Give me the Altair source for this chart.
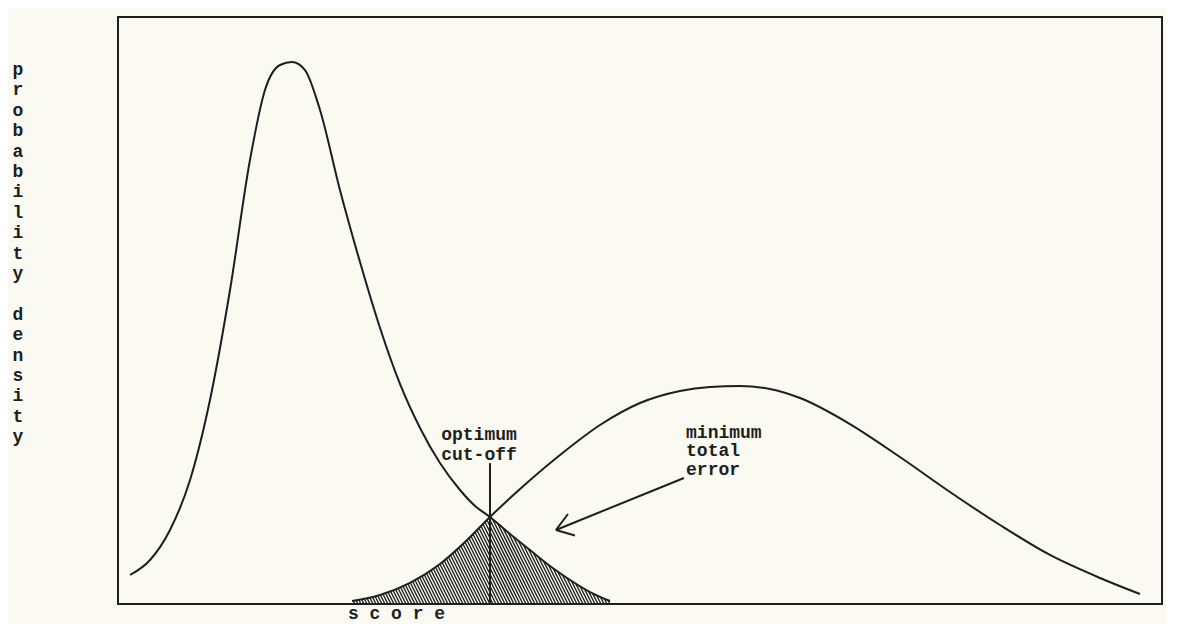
import altair as alt
import numpy as np
import pandas as pd

# ---- data (score 0-100 across the frame, density 0-100 up the frame)
left_score = [1.15, 3.07, 4.98, 6.90, 8.81, 10.73, 12.64, 14.08, 15.52, 16.67, 17.91, 19.35,
              21.26, 23.18, 25.10, 27.01, 28.93, 30.84, 32.76, 34.20, 35.63, 37.55, 39.46,
              41.38, 43.30, 45.21, 47.13]
left_density = [4.94, 7.50, 12.61, 21.12, 34.75, 53.49, 75.64, 87.56, 91.82, 92.33, 90.97, 84.16,
                70.53, 58.26, 47.02, 37.48, 29.98, 24.02, 19.42, 16.70, 14.82, 11.93, 9.20,
                6.47, 4.09, 2.04, 0.51]

right_score = [22.41, 25.10, 27.97, 30.84, 33.24, 35.63, 38.51, 42.34, 46.17, 50.00, 53.83,
               56.70, 59.58, 62.45, 65.33, 70.11, 74.90, 79.69, 84.48, 89.27, 94.06, 97.89]
right_density = [0.51, 1.53, 3.58, 6.81, 10.56, 14.82, 19.59, 25.38, 30.49, 34.24, 36.29,
                 36.97, 37.14, 36.63, 35.09, 30.66, 25.04, 19.08, 13.46, 8.35, 4.43, 1.70]

cutoff_score = 35.63
cutoff_top = 24.0
hatch_start, hatch_end = 22.41, 47.13

y_title_words = ["probability", "density"]
x_title = "s c o r e"

optimum_lines = ["optimum", "cut-off"]
optimum_score = 34.58
optimum_density = [28.79, 25.38]

minimum_lines = ["minimum", "total", "error"]
minimum_score = 54.41
minimum_density = [29.13, 26.06, 22.83]

arrow_tail = (54.21, 21.47)
arrow_tip = (41.95, 12.61)
arrow_wings = [(43.10, 15.33), (43.77, 11.67)]

# ---- layout
W, H = 1044, 587
PX_X, PX_Y = W / 100.0, H / 100.0
FONT = "Liberation Mono"
INK = "#1e1e1e"
FS = 18
LETTER_X_PX = -100       # left of the frame
LETTER_TOP_PX = 53       # first letter, from the top of the frame
LETTER_STEP_PX = 20.4

# ---- stacked letters of the vertical axis label (one blank line between the words)
letter_rows = []
line = 0
for wi, word in enumerate(y_title_words):
    if wi > 0:
        line += 1
    for ch in word:
        letter_rows.append(dict(text=ch,
                                score=LETTER_X_PX / PX_X,
                                density=100 - (LETTER_TOP_PX + line * LETTER_STEP_PX) / PX_Y))
        line += 1
letters_df = pd.DataFrame(letter_rows)

# ---- hatch lines inside the overlap region
rows = []
t = np.arange(0, 200, 0.25)
for xb in np.arange(hatch_start, hatch_end, 3.0 / PX_X):
    xx = xb - 0.5 * t / PX_X
    yy = t / PX_Y
    env = np.minimum(np.interp(xx, left_score, left_density),
                     np.interp(xx, right_score, right_density))
    inside = (yy <= env) & (xx >= hatch_start)
    k = int(np.argmax(~inside))
    if k == 0:
        continue
    rows.append(dict(score=xb, density=0.0, score_end=xx[k - 1], density_end=yy[k - 1]))
hatch_df = pd.DataFrame(rows)

curves = pd.concat([
    pd.DataFrame({"score": left_score, "density": left_density, "curve": "a"}),
    pd.DataFrame({"score": right_score, "density": right_density, "curve": "b"}),
])

segs = pd.DataFrame([
    dict(score=cutoff_score, density=0.0, score_end=cutoff_score, density_end=cutoff_top),
    dict(score=arrow_tail[0], density=arrow_tail[1], score_end=arrow_tip[0], density_end=arrow_tip[1]),
    dict(score=arrow_tip[0], density=arrow_tip[1], score_end=arrow_wings[0][0], density_end=arrow_wings[0][1]),
    dict(score=arrow_tip[0], density=arrow_tip[1], score_end=arrow_wings[1][0], density_end=arrow_wings[1][1]),
])

ann_center = pd.DataFrame({"score": [optimum_score] * 2, "density": optimum_density, "text": optimum_lines})
ann_left = pd.DataFrame({"score": [minimum_score] * 3, "density": minimum_density, "text": minimum_lines})

xs = alt.Scale(domain=[0, 100], nice=False, zero=False)
ys = alt.Scale(domain=[0, 100], nice=False, zero=False)

X = alt.X("score:Q", scale=xs, axis=alt.Axis(
    title=x_title, domain=False, ticks=False, labels=False, grid=False,
    titleFont=FONT, titleFontSize=FS, titleFontWeight="bold", titleColor=INK,
    titleX=278, titleY=14, titleAlign="center", titleBaseline="alphabetic"))
Y = alt.Y("density:Q", scale=ys, axis=None)

lines = alt.Chart(curves).mark_line(color=INK, strokeWidth=2, interpolate="monotone").encode(
    x=X, y=Y, detail="curve:N")

hatch = alt.Chart(hatch_df).mark_rule(color=INK, strokeWidth=1.4).encode(
    x=X, y=Y, x2="score_end:Q", y2="density_end:Q")

rules = alt.Chart(segs).mark_rule(color=INK, strokeWidth=2).encode(
    x=X, y=Y, x2="score_end:Q", y2="density_end:Q")

txt_c = alt.Chart(ann_center).mark_text(font=FONT, fontSize=FS, fontWeight="bold", color=INK,
                                        align="center", baseline="middle").encode(x=X, y=Y, text="text:N")
txt_l = alt.Chart(ann_left).mark_text(font=FONT, fontSize=FS, fontWeight="bold", color=INK,
                                      align="left", baseline="middle").encode(x=X, y=Y, text="text:N")
txt_y = alt.Chart(letters_df).mark_text(font=FONT, fontSize=FS, fontWeight="bold", color=INK,
                                        align="center", baseline="middle", clip=False).encode(
    x=X, y=Y, text="text:N")

chart = alt.layer(hatch, lines, rules, txt_c, txt_l, txt_y).properties(
    width=W, height=H,
    autosize=alt.AutoSizeParams(type="none"),
    padding={"left": 110, "top": 9, "right": 4, "bottom": 20},
    background="#fafaf3",
).configure_view(stroke=INK, strokeWidth=2)

chart.save("out.html", embed_options={"renderer": "svg", "actions": False})
